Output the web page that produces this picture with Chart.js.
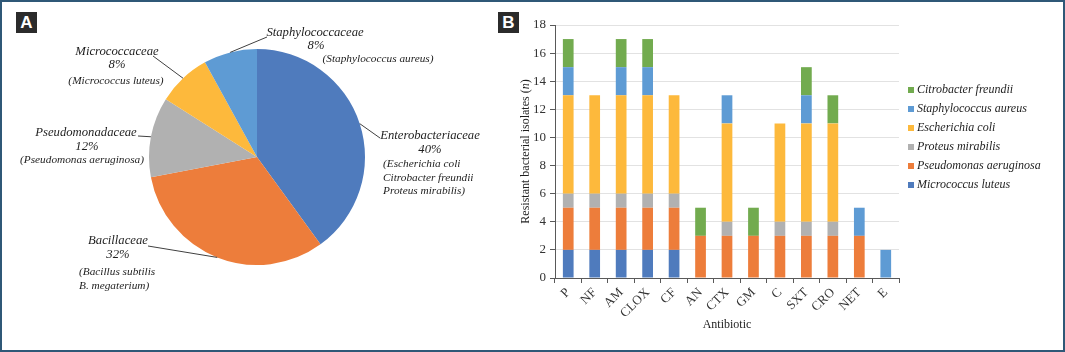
<!DOCTYPE html>
<html><head><meta charset="utf-8">
<script src="https://cdn.jsdelivr.net/npm/chart.js@4.4.0/dist/chart.umd.min.js"></script>
<style>
html,body{margin:0;padding:0;background:#fff;}
#frame{position:absolute;left:0;top:0;width:1065px;height:352px;box-sizing:border-box;border:2px solid #2f5877;pointer-events:none;z-index:5;}
.tag{position:absolute;top:12px;width:21px;height:21px;background:#2b2b2b;color:#fff;font:bold 17px "Liberation Sans",Arial,sans-serif;text-align:center;line-height:21px;z-index:4;}
canvas{position:absolute;top:0;}
</style></head>
<body>
<div id="frame"></div>
<div class="tag" style="left:16px">A</div>
<div class="tag" style="left:498px">B</div>
<canvas id="pie" width="500" height="352" style="left:0;width:500px;height:352px"></canvas>
<canvas id="bar" width="565" height="352" style="left:500px;width:565px;height:352px"></canvas>
<script>
// ---- Panel A data ----
const pieFamilies = ['Enterobacteriaceae','Bacillaceae','Pseudomonadaceae','Micrococcaceae','Staphylococcaceae'];
const piePercent = [40, 32, 12, 8, 8];
const pieSpecies = [
  ['(Escherichia coli','Citrobacter freundii','Proteus mirabilis)'],
  ['(Bacillus subtilis','B. megaterium)'],
  ['(Pseudomonas aeruginosa)'],
  ['(Micrococcus luteus)'],
  ['(Staphylococcus aureus)']
];
const pieColors = ['#4f7bbd','#ed7d3b','#b1b1b1','#fdb93c','#5e9bd4'];

// ---- Panel B data ----
const antibiotics = ['P','NF','AM','CLOX','CF','AN','CTX','GM','C','SXT','CRO','NET','E'];
const micrococcusLuteus      = [2,2,2,2,2,0,0,0,0,0,0,0,0];
const pseudomonasAeruginosa  = [3,3,3,3,3,3,3,3,3,3,3,3,0];
const proteusMirabilis       = [1,1,1,1,1,0,1,0,1,1,1,0,0];
const escherichiaColi        = [7,7,7,7,7,0,7,0,7,7,7,0,0];
const staphylococcusAureus   = [2,0,2,2,0,0,2,0,0,2,0,2,2];
const citrobacterFreundii    = [2,0,2,2,0,2,0,2,0,2,2,0,0];
const seriesNames = ['Micrococcus luteus','Pseudomonas aeruginosa','Proteus mirabilis','Escherichia coli','Staphylococcus aureus','Citrobacter freundii'];
const seriesValues = [micrococcusLuteus, pseudomonasAeruginosa, proteusMirabilis, escherichiaColi, staphylococcusAureus, citrobacterFreundii];
const seriesColors = ['#4f7bbd','#ed7d3b','#b1b1b1','#fdb93c','#5e9bd4','#72ab4f'];

const SERIF = '"Liberation Serif","Times New Roman",serif';

// label layout for the pie (positions only)
const pieLabelLayout = [
  {anchor:[380,138], head:{x:430,y:136}, pct:{x:430,y:150}, sp:{x:383,y:164,align:'left'}},
  {anchor:[148,246], head:{x:118,y:241}, pct:{x:118,y:255}, sp:{x:79,y:272,align:'left'}},
  {anchor:[138,136], head:{x:86,y:133}, pct:{x:87,y:147}, sp:{x:82,y:160,align:'center'}},
  {anchor:[153,56],  head:{x:117,y:52}, pct:{x:117,y:65}, sp:{x:116,y:81,align:'center'}},
  {anchor:[267,37],  head:{x:315,y:33}, pct:{x:316,y:46}, sp:{x:378,y:59,align:'center'}}
];

const pieLabelPlugin = {
  id:'pieLabels',
  afterDraw(chart){
    const ctx = chart.ctx;
    const meta = chart.getDatasetMeta(0);
    ctx.save();
    meta.data.forEach((arc,i)=>{
      const p = arc.getProps(['x','y','startAngle','endAngle','outerRadius'], true);
      const mid = (p.startAngle + p.endAngle)/2;
      const sx = p.x + Math.cos(mid)*p.outerRadius;
      const sy = p.y + Math.sin(mid)*p.outerRadius;
      const L = pieLabelLayout[i];
      ctx.strokeStyle = '#404040'; ctx.lineWidth = 1;
      ctx.beginPath(); ctx.moveTo(sx,sy); ctx.lineTo(L.anchor[0], L.anchor[1]); ctx.stroke();
      ctx.fillStyle = '#1e1e1e';
      ctx.textBaseline = 'middle';
      ctx.textAlign = 'center';
      ctx.font = 'italic 12.7px ' + SERIF;
      ctx.fillText(pieFamilies[i], L.head.x, L.head.y);
      ctx.fillText(piePercent[i] + '%', L.pct.x, L.pct.y);
      ctx.font = 'italic 11.3px ' + SERIF;
      ctx.textAlign = L.sp.align;
      pieSpecies[i].forEach((s,k)=> ctx.fillText(s, L.sp.x, L.sp.y + k*13.7));
    });
    ctx.restore();
  }
};

new Chart(document.getElementById('pie'), {
  type:'pie',
  data:{ labels: pieFamilies, datasets:[{ data: piePercent, backgroundColor: pieColors, borderWidth:0 }] },
  options:{
    responsive:false, animation:false, events:[],
    layout:{ padding:{ left:149, top:49, right:135, bottom:87 } },
    plugins:{ legend:{display:false}, tooltip:{enabled:false} }
  },
  plugins:[pieLabelPlugin]
});

const barDecor = {
  id:'barDecor',
  afterDraw(chart){
    const ctx = chart.ctx;
    ctx.save();
    // legend (reverse order)
    ctx.font = 'italic 12px ' + SERIF;
    ctx.textBaseline = 'middle'; ctx.textAlign = 'left';
    for (let k = 0; k < seriesNames.length; k++){
      const i = seriesNames.length - 1 - k;
      const y = 90 + k*19;
      ctx.fillStyle = seriesColors[i];
      ctx.fillRect(408, y-3, 6, 6);
      ctx.fillStyle = '#1e1e1e';
      ctx.fillText(seriesNames[i], 417, y);
    }
    // x title
    const ca = chart.chartArea;
    ctx.font = '12px ' + SERIF;
    ctx.textAlign = 'center';
    ctx.fillText('Antibiotic', (ca.left+ca.right)/2, 325);
    // y title with italic n
    ctx.translate(26, (ca.top+ca.bottom)/2);
    ctx.rotate(-Math.PI/2);
    const parts = [['Resistant bacterial isolates (', '12px '+SERIF], ['n', 'italic 12px '+SERIF], [')', '12px '+SERIF]];
    let total = 0;
    parts.forEach(p=>{ ctx.font = p[1]; total += ctx.measureText(p[0]).width; });
    let x = -total/2;
    ctx.textAlign = 'left';
    parts.forEach(p=>{ ctx.font = p[1]; ctx.fillText(p[0], x, 0); x += ctx.measureText(p[0]).width; });
    ctx.restore();
  }
};

new Chart(document.getElementById('bar'), {
  type:'bar',
  data:{
    labels: antibiotics,
    datasets: seriesNames.map((n,i)=>({ label:n, data: seriesValues[i], backgroundColor: seriesColors[i], borderWidth:0, barPercentage:0.405, categoryPercentage:1 }))
  },
  options:{
    responsive:false, animation:false, events:[],
    layout:{ padding:{ left:0, top:25, right:166, bottom:0 } },
    plugins:{ legend:{display:false}, tooltip:{enabled:false} },
    scales:{
      x:{
        stacked:true,
        grid:{ display:true, drawOnChartArea:false, drawTicks:true, tickLength:5, color:'#595959', offset:true },
        border:{ color:'#595959' },
        ticks:{ font:{ family:SERIF, size:13 }, color:'#333333', maxRotation:45, minRotation:45, padding:2, autoSkip:false },
        afterFit(s){ s.height = 74; }
      },
      y:{
        stacked:true, min:0, max:18,
        ticks:{ stepSize:2, font:{ family:SERIF, size:13 }, color:'#333333', padding:4 },
        grid:{ color:'#e2e2e2', tickColor:'#595959', tickLength:5 },
        border:{ color:'#595959' },
        afterFit(s){ s.width = 55; }
      }
    }
  },
  plugins:[barDecor]
});
</script>
</body></html>
